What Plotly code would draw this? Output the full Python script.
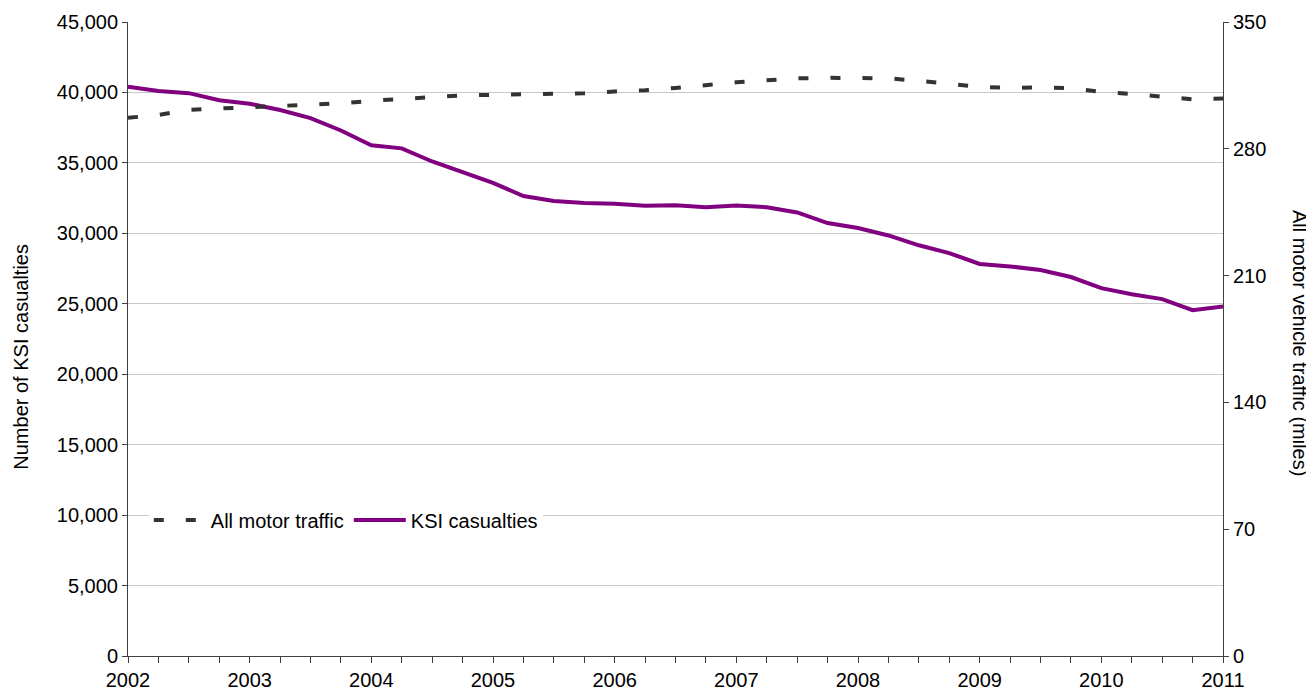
import plotly.graph_objects as go

# Quarterly observations, 2002 Q1 .. 2011 Q1 (x = fractional year)
quarters = [2002 + q / 4 for q in range(37)]

ksi_casualties = [
    40400, 40100, 39950, 39450, 39200, 38750, 38180, 37300, 36250, 36030,
    35100, 34350, 33580, 32650, 32290, 32150, 32100, 31950, 32000, 31850,
    31980, 31850, 31480, 30730, 30380, 29850, 29150, 28600, 27830, 27650,
    27400, 26900, 26110, 25680, 25330, 24550, 24800,
]

motor_traffic = [
    297.1, 298.7, 301.5, 302.3, 303.2, 303.7, 304.3, 305.1, 306.5, 307.6,
    308.7, 309.5, 309.8, 310.0, 310.3, 310.6, 311.7, 312.3, 313.6, 315.3,
    316.7, 317.8, 318.9, 319.2, 319.2, 318.9, 317.5, 316.1, 314.2, 313.6,
    313.9, 313.4, 311.4, 310.3, 308.9, 307.3, 307.8,
]

year_ticks = list(range(2002, 2012))
left_ticks = list(range(0, 45001, 5000))
right_ticks = list(range(0, 351, 70))

FONT = "Liberation Sans, Arial, sans-serif"
AXIS_COL = "#404040"

fig = go.Figure()
fig.add_trace(go.Scatter(
    x=quarters, y=motor_traffic, name="All motor traffic", yaxis="y2",
    mode="lines", line=dict(color="#333333", width=4, dash="10px,22px"),
))
fig.add_trace(go.Scatter(
    x=quarters, y=ksi_casualties, name="KSI casualties", yaxis="y",
    mode="lines", line=dict(color="#800080", width=4),
))

# page body has an 8px default margin, so the figure is offset by 8px
fig.update_layout(
    width=1306, height=683,
    margin=dict(l=120, r=91, t=14, b=35, autoexpand=False),
    paper_bgcolor="white", plot_bgcolor="white",
    font=dict(family=FONT, size=20, color="#000000"),
    showlegend=True,
    legend=dict(
        orientation="h", x=0.019, y=0.2145, xanchor="left", yanchor="middle",
        bgcolor="white", font=dict(size=20, family=FONT),
        itemwidth=52, tracegroupgap=0,
    ),
    xaxis=dict(
        range=[2002, 2011], tickvals=year_ticks, ticktext=[str(y) for y in year_ticks],
        showgrid=False, zeroline=False, showline=True, linecolor=AXIS_COL, linewidth=1,
        ticks="outside", ticklen=6, tickcolor=AXIS_COL, automargin=False,
        minor=dict(dtick=0.25, tick0=2002, ticks="outside", ticklen=6,
                   tickcolor=AXIS_COL, showgrid=False),
        tickfont=dict(size=20),
    ),
    yaxis=dict(
        range=[0, 45000], tickvals=left_ticks, tickformat=",",
        showgrid=True, gridcolor="#c8c8c8", gridwidth=1, zeroline=False,
        showline=True, linecolor=AXIS_COL, linewidth=1, automargin=False,
        ticks="outside", ticklen=5, tickcolor=AXIS_COL,
        tickfont=dict(size=20),
    ),
    yaxis2=dict(
        range=[0, 350], tickvals=right_ticks, overlaying="y", side="right",
        showgrid=False, zeroline=False, showline=True, linecolor=AXIS_COL, linewidth=1,
        ticks="outside", ticklen=5, tickcolor=AXIS_COL, automargin=False,
        tickfont=dict(size=20),
    ),
    annotations=[
        dict(text="Number of KSI casualties", textangle=-90, xref="paper", yref="paper",
             x=-0.098, y=0.4716, xanchor="center", yanchor="middle", showarrow=False,
             font=dict(size=20, family=FONT)),
        dict(text="All motor vehicle traffic (miles)", textangle=90, xref="paper", yref="paper",
             x=1.0703, y=0.4937, xanchor="center", yanchor="middle", showarrow=False,
             font=dict(size=20, family=FONT)),
    ],
)

fig.write_html("out.html")
